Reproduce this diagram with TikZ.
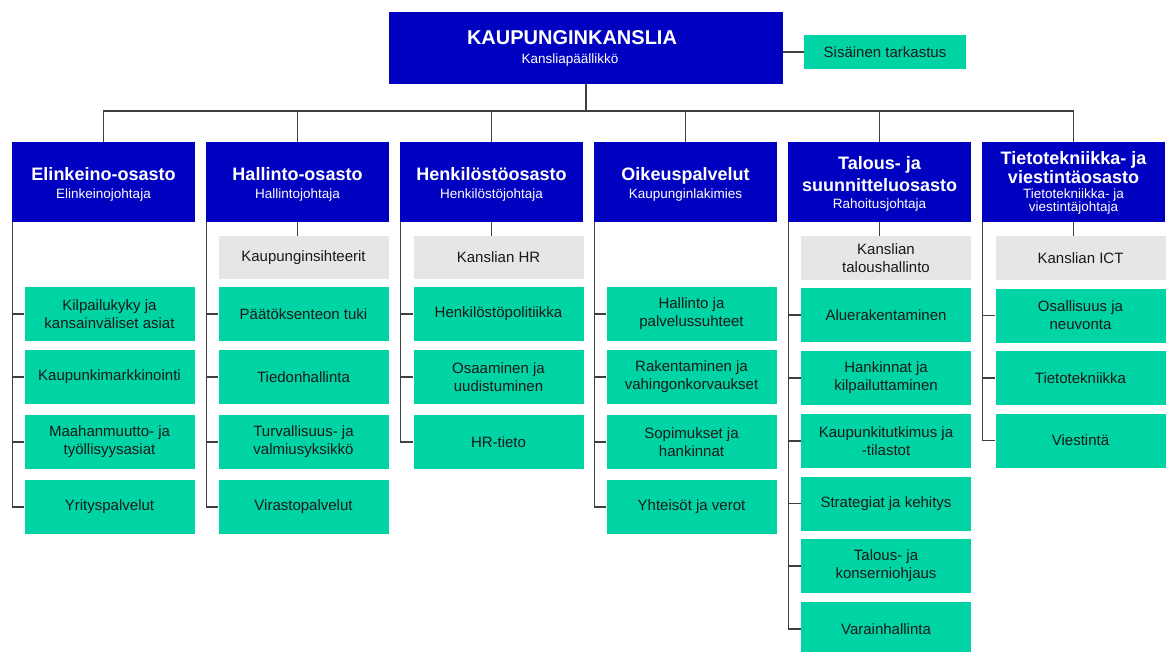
\documentclass[tikz,border=0pt]{standalone}
\usepackage{fontspec}
\setmainfont{Liberation Sans}
\definecolor{hblue}{RGB}{0,0,192}
\definecolor{hgreen}{RGB}{0,212,164}
\definecolor{hgray}{RGB}{230,230,230}
\definecolor{hline}{RGB}{64,64,64}
\definecolor{htext}{RGB}{25,25,25}
\tikzset{
  conn/.style={draw=hline, line width=1.2pt},
  topbox/.style={fill=hblue, text=white, minimum width=394pt, minimum height=72pt, inner sep=0pt},
  deptbox/.style={fill=hblue, text=white, minimum width=183pt, minimum height=80pt, inner sep=0pt},
  subbox/.style={fill=hgreen, text=htext, minimum width=170pt, minimum height=54pt, inner sep=0pt, align=center, font=\fontsize{15}{18}\selectfont},
  graybox/.style={fill=hgray, text=htext, minimum width=170pt, minimum height=43pt, inner sep=0pt, align=center, font=\fontsize{15}{18}\selectfont},
}
% #1 title, #2 subtitle, #3 title baselineskip, #4 subtitle baselineskip
\newcommand{\dtext}[4]{\parbox{180pt}{\vspace*{4pt}\centering\fontsize{18}{#3}\selectfont\bfseries #1\par\fontsize{13.5}{#4}\selectfont\mdseries #2\par}}
\begin{document}
\begin{tikzpicture}[x=1pt,y=-1pt]
\useasboundingbox (0,0) rectangle (1166,651);
% top
\node[topbox] (top) at (586,48) {\parbox{380pt}{\centering\fontsize{20}{23}\selectfont\bfseries\hspace*{-28pt}KAUPUNGINKANSLIA\par\fontsize{13.5}{19}\selectfont\mdseries\hspace*{-32pt}Kansliapäällikkö\par}};
\node[subbox, minimum width=162pt, minimum height=34pt] (sis) at (885,52) {Sisäinen tarkastus};
\draw[conn] (sis.west) -- (sis.west -| top.east);
\coordinate (bus) at (586,111);
\draw[conn] (top.south) -- (bus);
% departments
\node[deptbox] (d1) at (103.5,182) {\dtext{Elinkeino-osasto}{Elinkeinojohtaja}{21}{18}};
\node[deptbox] (d2) at (297.5,182) {\dtext{Hallinto-osasto}{Hallintojohtaja}{21}{18}};
\node[deptbox] (d3) at (491.5,182) {\dtext{Henkilöstöosasto}{Henkilöstöjohtaja}{21}{18}};
\node[deptbox] (d4) at (685.5,182) {\dtext{Oikeuspalvelut}{Kaupunginlakimies}{21}{18}};
\node[deptbox] (d5) at (879.5,182) {\dtext{Talous- ja\\suunnitteluosasto}{Rahoitusjohtaja}{22}{17}};
\node[deptbox] (d6) at (1073.5,182) {\parbox{180pt}{\vspace*{2pt}\centering\fontsize{18}{18.5}\selectfont\bfseries Tietotekniikka- ja\\viestintäosasto\par\vspace{2.5pt}\fontsize{13.5}{13}\selectfont\mdseries Tietotekniikka- ja\\viestintäjohtaja\par}};
\foreach \d in {d1,d2,d3,d4,d5,d6}{\draw[conn] (\d.north) |- (bus);}
% Elinkeino
\node[subbox] (a1) at (109.5,314) {Kilpailukyky ja\\kansainväliset asiat};
\node[subbox] (a2) at (109.5,377) {Kaupunkimarkkinointi};
\node[subbox] (a3) at (109.5,442) {Maahanmuutto- ja\\työllisyysasiat};
\node[subbox] (a4) at (109.5,507) {Yrityspalvelut};
\foreach \s in {a1,a2,a3,a4}{\draw[conn] (d1.south west) ++(0.6,0) |- (\s.west);}
% Hallinto
\node[graybox] (g2) at (303.5,257.5) {Kaupunginsihteerit};
\node[subbox] (b1) at (303.5,314) {Päätöksenteon tuki};
\node[subbox] (b2) at (303.5,377) {Tiedonhallinta};
\node[subbox] (b3) at (303.5,442) {Turvallisuus- ja\\valmiusyksikkö};
\node[subbox] (b4) at (303.5,507) {Virastopalvelut};
\draw[conn] (g2.north -| d2.south) -- (d2.south);
\foreach \s in {b1,b2,b3,b4}{\draw[conn] (d2.south west) ++(0.6,0) |- (\s.west);}
% Henkilosto
\node[graybox] (g3) at (498.5,257.5) {Kanslian HR};
\node[subbox] (c1) at (498.5,314) {Henkilöstöpolitiikka};
\node[subbox] (c2) at (498.5,377) {Osaaminen ja\\uudistuminen};
\node[subbox] (c3) at (498.5,442) {HR-tieto};
\draw[conn] (g3.north -| d3.south) -- (d3.south);
\foreach \s in {c1,c2,c3}{\draw[conn] (d3.south west) ++(0.6,0) |- (\s.west);}
% Oikeus
\node[subbox] (e1) at (691.5,314) {Hallinto ja\\palvelussuhteet};
\node[subbox] (e2) at (691.5,377) {Rakentaminen ja\\vahingonkorvaukset};
\node[subbox] (e3) at (691.5,442) {Sopimukset ja\\hankinnat};
\node[subbox] (e4) at (691.5,507) {Yhteisöt ja verot};
\foreach \s in {e1,e2,e3,e4}{\draw[conn] (d4.south west) ++(0.6,0) |- (\s.west);}
% Talous
\node[graybox, minimum height=44pt] (g5) at (886,258) {Kanslian\\taloushallinto};
\node[subbox] (f1) at (886,315) {Aluerakentaminen};
\node[subbox] (f2) at (886,378) {Hankinnat ja\\kilpailuttaminen};
\node[subbox] (f3) at (886,441) {Kaupunkitutkimus ja\\-tilastot};
\node[subbox] (f4) at (886,503.5) {Strategiat ja kehitys};
\node[subbox] (f5) at (886,566) {Talous- ja\\konserniohjaus};
\node[subbox] (f6) at (886,629) {Varainhallinta};
\draw[conn] (g5.north -| d5.south) -- (d5.south);
\foreach \s in {f1,f2,f3,f4,f5,f6}{\draw[conn] (d5.south west) ++(0.6,0) |- (\s.west);}
% Tieto
\node[graybox, minimum height=44pt] (g6) at (1080.5,258) {Kanslian ICT};
\node[subbox] (h1) at (1080.5,315.5) {Osallisuus ja\\neuvonta};
\node[subbox] (h2) at (1080.5,378) {Tietotekniikka};
\node[subbox] (h3) at (1080.5,440.5) {Viestintä};
\draw[conn] (g6.north -| d6.south) -- (d6.south);
\foreach \s in {h1,h2,h3}{\draw[conn] (d6.south west) ++(0.6,0) |- (\s.west);}
\end{tikzpicture}
\end{document}
